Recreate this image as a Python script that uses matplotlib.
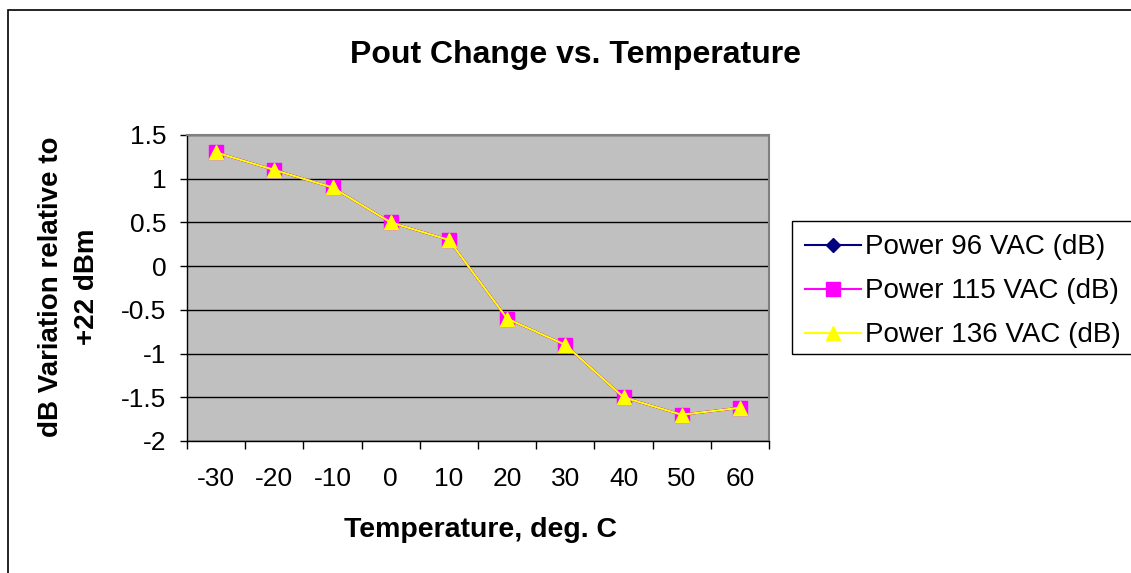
import matplotlib.pyplot as plt
import matplotlib.patches as mpatches
import numpy as np

# -----------------------------------------
# DATA
# -----------------------------------------
temps = ["-30", "-20", "-10", "0", "10", "20", "30", "40", "50", "60"]
power_96 = [1.3, 1.1, 0.9, 0.5, 0.3, -0.6, -0.9, -1.5, -1.7, -1.62]
power_115 = [1.3, 1.1, 0.9, 0.5, 0.3, -0.6, -0.9, -1.5, -1.7, -1.62]
power_136 = [1.3, 1.1, 0.9, 0.5, 0.3, -0.6, -0.9, -1.5, -1.7, -1.62]
y_ticks = [1.5, 1, 0.5, 0, -0.5, -1, -1.5, -2]

plt.rcParams["font.family"] = ["Liberation Sans", "DejaVu Sans"]

W, H = 1131, 573
fig = plt.figure(figsize=(W / 100, H / 100), dpi=100)
ax = fig.add_axes([187 / W, 1 - 441 / H, 582 / W, 306 / H])

x = np.arange(len(temps))
ax.plot(x, power_96, color="#000080", marker="D", markersize=7, lw=1.5,
        label="Power 96 VAC (dB)", zorder=3)
ax.plot(x, power_115, color="#FF00FF", marker="s", markersize=9.5, lw=1.5,
        label="Power 115 VAC (dB)", zorder=4)
ax.plot(x, power_136, color="#FFFF00", marker="^", markersize=10, lw=1.5,
        label="Power 136 VAC (dB)", zorder=5)

# -----------------------------------------
# PLOT AREA
# -----------------------------------------
ax.set_facecolor("#C0C0C0")
ax.set_xlim(-0.5, len(temps) - 0.5)
ax.set_ylim(-2, 1.5)
ax.set_yticks(y_ticks)
ax.set_yticklabels(["%g" % v for v in y_ticks])
ax.yaxis.grid(True, color="black", lw=1)
ax.set_axisbelow(True)

ax.set_xticks(np.arange(-0.5, len(temps), 1))
ax.set_xticklabels([])
ax.set_xticks(x, minor=True)
ax.set_xticklabels(temps, minor=True)
ax.tick_params(axis="x", which="major", length=6, width=1, direction="out")
ax.tick_params(axis="x", which="minor", length=0, pad=19, labelsize=19)
ax.tick_params(axis="y", length=5, width=1, direction="out", labelsize=19, pad=10)

for side in ["top", "right"]:
    ax.spines[side].set_color("#808080")
    ax.spines[side].set_linewidth(1.5)
for side in ["left", "bottom"]:
    ax.spines[side].set_color("black")
    ax.spines[side].set_linewidth(1)

# -----------------------------------------
# TEXTS
# -----------------------------------------
fig.text(575 / W, 1 - 55 / H, "Pout Change vs. Temperature", ha="center",
         va="center", fontsize=23, fontweight="bold")
fig.text(480 / W, 1 - 530 / H, "Temperature, deg. C", ha="center", va="center",
         fontsize=20.5, fontweight="bold")
fig.text(51 / W, 1 - 287 / H, "dB Variation relative to", ha="center",
         va="center", rotation=90, fontsize=20, fontweight="bold")
fig.text(87 / W, 1 - 287 / H, "+22 dBm", ha="center", va="center",
         rotation=90, fontsize=20, fontweight="bold")

# -----------------------------------------
# LEGEND (frame drawn separately, runs off the right edge)
# -----------------------------------------
leg = fig.legend(loc="upper left", bbox_to_anchor=(792 / W, 1 - 221 / H),
                 fontsize=20, frameon=False, handlelength=2.0,
                 borderpad=0.48, borderaxespad=0, labelspacing=0.65,
                 handletextpad=0.15)
fig.patches.append(mpatches.Rectangle((792 / W, 1 - 354 / H), 360 / W, 133 / H,
                                      transform=fig.transFigure, fill=False,
                                      edgecolor="black", lw=1))

# outer chart border
fig.patches.append(mpatches.Rectangle((8 / W, -0.1), 1.2, 1.1 - 10 / H,
                                      transform=fig.transFigure, fill=False,
                                      edgecolor="black", lw=1.2))

fig.savefig("out.png", dpi=100, facecolor="white")
